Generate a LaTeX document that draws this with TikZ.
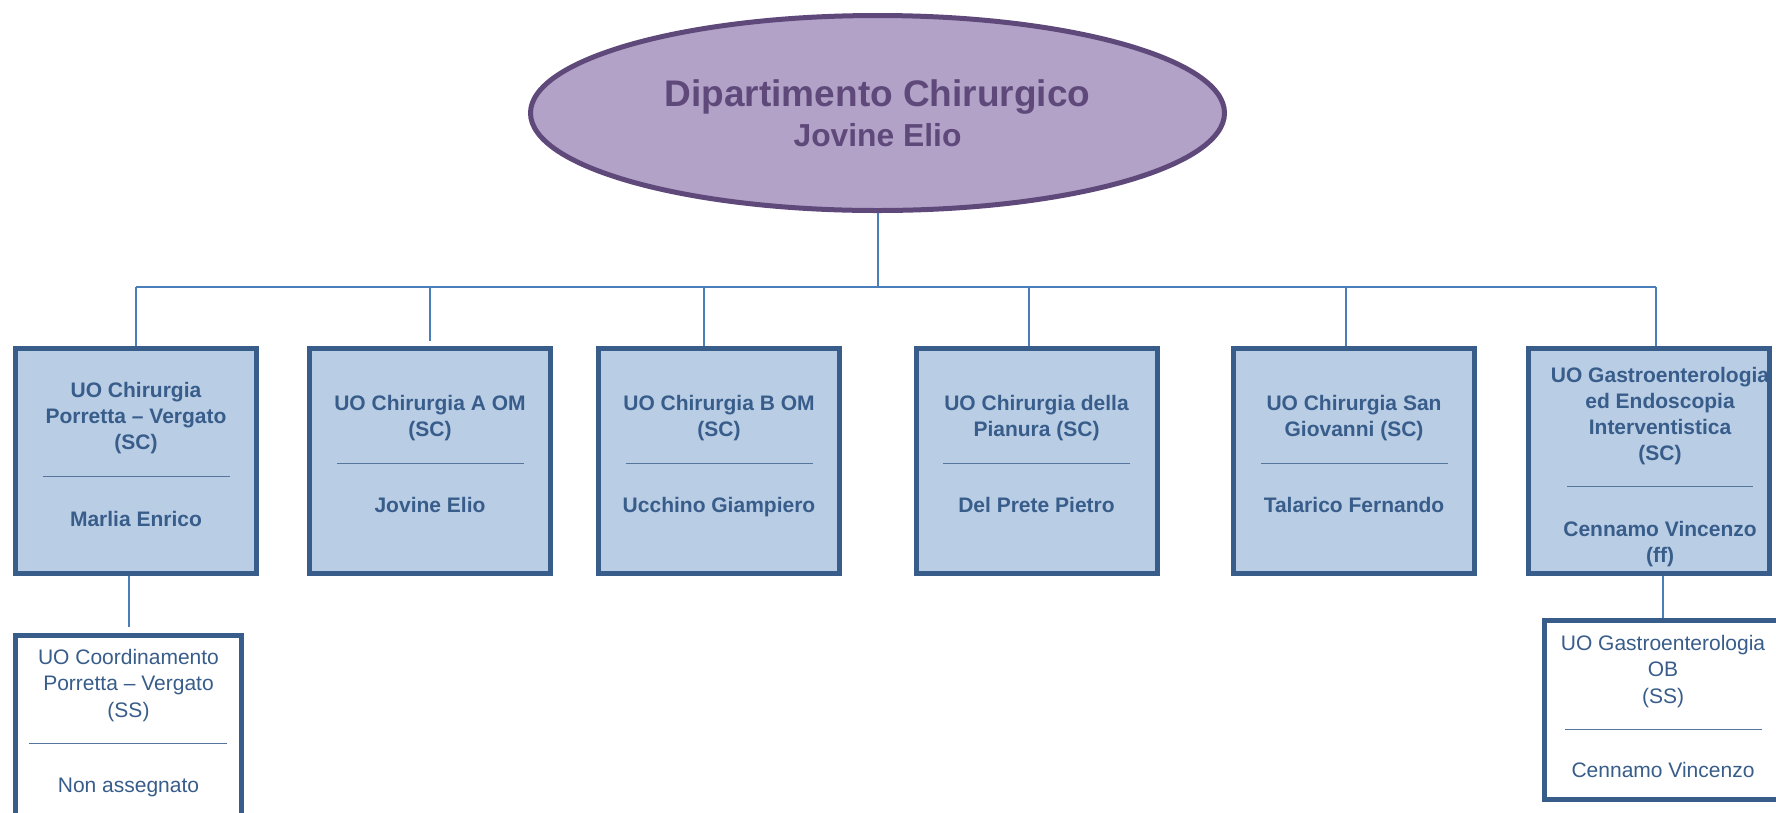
\documentclass[tikz,border=0pt]{standalone}
\usepackage{fontspec}
\setmainfont{Liberation Sans}
\usetikzlibrary{shapes.geometric}
\definecolor{boxfill}{HTML}{B9CDE5}
\definecolor{boxline}{HTML}{385D8A}
\definecolor{txtcol}{HTML}{385D8A}
\definecolor{conncol}{HTML}{4A7EBB}
\definecolor{ellfill}{HTML}{B2A2C7}
\definecolor{ellline}{HTML}{5F497A}
\tikzset{
  unitbox/.style={draw=boxline, fill=boxfill, line width=5pt, inner sep=0pt, outer sep=2.5pt,
    minimum width=241pt, minimum height=225pt},
  subbox/.style={draw=boxline, fill=white, line width=5pt, inner sep=0pt, outer sep=2.5pt},
  conn/.style={draw=conncol, line width=2pt},
  divider/.style={draw=txtcol!85, line width=1pt},
  bt/.style={font=\bfseries\fontsize{21}{26}\selectfont, text=txtcol, align=center, inner sep=0pt, anchor=north},
  btb/.style={font=\bfseries\fontsize{21}{26}\selectfont, text=txtcol, inner sep=0pt, anchor=base},
  rt/.style={font=\fontsize{21}{26.3}\selectfont, text=txtcol, align=center, inner sep=0pt, anchor=north},
  rtb/.style={font=\fontsize{21}{26}\selectfont, text=txtcol, inner sep=0pt, anchor=base},
  titletext/.style={font=\bfseries\fontsize{37}{40}\selectfont, text=ellline, inner sep=0pt, anchor=base},
  subtitletext/.style={font=\bfseries\fontsize{31.8}{36}\selectfont, text=ellline, inner sep=0pt, anchor=base},
}
\begin{document}
\begin{tikzpicture}[x=1pt,y=1pt]
\useasboundingbox (0,0) rectangle (1776,-812);
\fill[white] (0,0) rectangle (1776,-812);

% department ellipse
\node[ellipse, draw=ellline, fill=ellfill, line width=5pt, inner sep=0pt, outer sep=2.5pt,
  minimum width=694pt, minimum height=195pt] (dept) at (877.5,-113) {};
\node[titletext] (deptname) at (877.5,-106) {Dipartimento Chirurgico};
\node[subtitletext] (depthead) at (877.5,-146) {Jovine Elio};

% top row units
\node[unitbox] (b1) at (136,-461) {};
\node[unitbox] (b2) at (430,-461) {};
\node[unitbox] (b3) at (719,-461) {};
\node[unitbox] (b4) at (1036.5,-461) {};
\node[unitbox] (b5) at (1354,-461) {};
\node[unitbox] (b6) at (1649,-461) {};

% sub units
\node[subbox, minimum width=226pt, minimum height=195pt] (s1) at (128.5,-732.6) {};
\node[subbox, minimum width=237.6pt, minimum height=179pt] (s6) at (1663,-709.7) {};

% connectors
\coordinate (bus) at (877.5,-287);
\coordinate (d3) at ([xshift=-15pt]b3.north);
\coordinate (d4) at ([xshift=-7.5pt]b4.north);
\coordinate (d5) at ([xshift=-8pt]b5.north);
\coordinate (d6) at ([xshift=7pt]b6.north);
\draw[conn] (dept.south) -- (bus);
\draw[conn] (b1.north |- bus) -- (d6 |- bus);
\draw[conn] (b1.north |- bus) -- (b1.north);
\draw[conn, shorten >=5pt] (b2.north |- bus) -- (b2.north);
\draw[conn] (d3 |- bus) -- (d3);
\draw[conn] (d4 |- bus) -- (d4);
\draw[conn] (d5 |- bus) -- (d5);
\draw[conn] (d6 |- bus) -- (d6);
\draw[conn, shorten >=6pt] (s1.north |- b1.south) -- (s1.north);
\draw[conn] (s6.north |- b6.south) -- (s6.north);

% texts box 1
\node[bt] (b1h) at (136,-378.8) {\strut UO Chirurgia\\Porretta – Vergato\\(SC)};
\draw[divider] (42.5,-476.7) -- (229.5,-476.7);
\node[btb] (b1n) at (136,-526) {Marlia Enrico};

% box 2
\node[bt] (b2h) at (430,-392.5) {\strut UO Chirurgia A OM\\(SC)};
\draw[divider] (337,-463.3) -- (524,-463.3);
\node[btb] (b2n) at (430,-512.7) {Jovine Elio};

% box 3
\node[bt] (b3h) at (719,-392.5) {\strut UO Chirurgia B OM\\(SC)};
\draw[divider] (625.5,-463.3) -- (812.5,-463.3);
\node[btb] (b3n) at (719,-512.7) {Ucchino Giampiero};

% box 4
\node[bt] (b4h) at (1036.5,-392.5) {\strut UO Chirurgia della\\Pianura (SC)};
\draw[divider] (943,-463.3) -- (1130,-463.3);
\node[btb] (b4n) at (1036.5,-512.7) {Del Prete Pietro};

% box 5
\node[bt] (b5h) at (1354,-392.5) {\strut UO Chirurgia San\\Giovanni (SC)};
\draw[divider] (1260.5,-463.3) -- (1447.5,-463.3);
\node[btb] (b5n) at (1354,-512.7) {Talarico Fernando};

% box 6
\node[bt] (b6h) at (1660,-364.5) {\strut UO Gastroenterologia\\ed Endoscopia\\Interventistica\\(SC)};
\draw[divider] (1567,-486.7) -- (1753,-486.7);
\node[bt] (b6n) at (1660,-518.5) {\strut Cennamo Vincenzo\\(ff)};

% sub box 1
\node[rt] (s1h) at (128.5,-645.8) {\strut UO Coordinamento\\Porretta – Vergato\\(SS)};
\draw[divider] (29,-743) -- (227,-743);
\node[rtb] (s1n) at (128.5,-792.7) {Non assegnato};

% sub box 6
\node[rt] (s6h) at (1663,-631.8) {\strut UO Gastroenterologia\\OB\\(SS)};
\draw[divider] (1565,-729) -- (1762,-729);
\node[rtb] (s6n) at (1663,-777.7) {Cennamo Vincenzo};
\end{tikzpicture}
\end{document}
